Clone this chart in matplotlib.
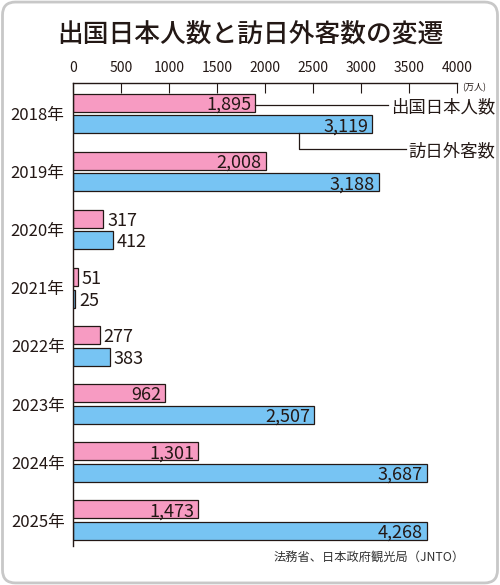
import matplotlib
matplotlib.use('Agg')
import matplotlib.pyplot as plt
import matplotlib.patches as mpatches
import numpy as np

plt.rcParams['font.family'] = ['Noto Sans CJK JP', 'DejaVu Sans']

years = ['2018年', '2019年', '2020年', '2021年', '2022年', '2023年', '2024年', '2025年']
outbound = [1895, 2008, 317, 51, 277, 962, 1301, 1473]    # 出国日本人数 (万人)
inbound = [3119, 3188, 412, 25, 383, 2507, 3687, 4268]    # 訪日外客数 (万人)
# bar lengths as drawn in the original (2025 bars are the same length as 2024)
outbound_bar = [1895, 2008, 317, 51, 277, 962, 1301, 1301]
inbound_bar = [3119, 3188, 412, 25, 383, 2507, 3687, 3687]
ticks = [0, 500, 1000, 1500, 2000, 2500, 3000, 3500, 4000]

ink = '#231815'
pink = '#f79bc2'
blue = '#77c4f3'

fig = plt.figure(figsize=(5, 5.85), dpi=100)

# rounded frame
frame = mpatches.FancyBboxPatch((0.005, 0.0035), 0.99, 0.993,
                                boxstyle='round,pad=0,rounding_size=0.026',
                                mutation_aspect=500 / 585,
                                transform=fig.transFigure, fc='white',
                                ec='#c8c8c8', lw=2, zorder=-1)
fig.patches.append(frame)

ax = fig.add_axes([73 / 500, 1 - 546 / 585, 384 / 500, 463 / 585])
ax.patch.set_alpha(0)

y = np.arange(len(years))
h = 0.31
off = 0.185
ax.barh(y - off, outbound_bar, height=h, color=pink, edgecolor=ink, lw=0.9)
ax.barh(y + off, inbound_bar, height=h, color=blue, edgecolor=ink, lw=0.9)

for i in range(len(years)):
    for val, bar, yy in [(outbound[i], outbound_bar[i], y[i] - off),
                         (inbound[i], inbound_bar[i], y[i] + off)]:
        if bar < 600:
            ax.text(bar + 40, yy, f'{val:,}', ha='left', va='center_baseline',
                    fontsize=13, color=ink)
        else:
            ax.text(bar - 40, yy, f'{val:,}', ha='right', va='center_baseline',
                    fontsize=13, color=ink)

# leader lines to the series names
ax.plot([outbound_bar[0], 3281], [-off + 0.04, -off + 0.04], color=ink, lw=0.9, clip_on=False)
ax.text(3310, -off + 0.04, '出国日本人数', ha='left', va='center_baseline',
        fontsize=12.5, color=ink, clip_on=False)
ax.plot([2354, 2354, 3469], [off + h / 2, 0.61, 0.61], color=ink, lw=0.9, clip_on=False)
ax.text(3490, 0.61, '訪日外客数', ha='left', va='center_baseline',
        fontsize=12.5, color=ink, clip_on=False)

ax.set_xlim(0, 4000)
ax.set_ylim(7.444, -0.525)
ax.xaxis.tick_top()
ax.set_xticks(ticks)
ax.set_xticklabels([str(t) for t in ticks])
ax.tick_params(axis='x', direction='in', length=7.5, width=0.8, pad=6,
               labelsize=10, colors=ink)
ax.set_yticks(y)
ax.set_yticklabels(years)
ax.tick_params(axis='y', length=0, pad=6, labelsize=12, colors=ink)

for s in ['right', 'bottom']:
    ax.spines[s].set_visible(False)
for s in ['top', 'left']:
    ax.spines[s].set_color(ink)
    ax.spines[s].set_linewidth(1)

fig.text(0.5, 1 - 35 / 585, '出国日本人数と訪日外客数の変遷', ha='center', va='center',
         fontsize=18.5, fontweight='medium', color=ink)
fig.text(462 / 500, 1 - 88 / 585, '(万人)', ha='left', va='center', fontsize=6.5, color=ink)
fig.text(465 / 500, 1 - 557 / 585, '法務省、日本政府観光局（JNTO）', ha='right', va='center',
         fontsize=8.8, color='#333333')

plt.savefig('out.png', dpi=100)
